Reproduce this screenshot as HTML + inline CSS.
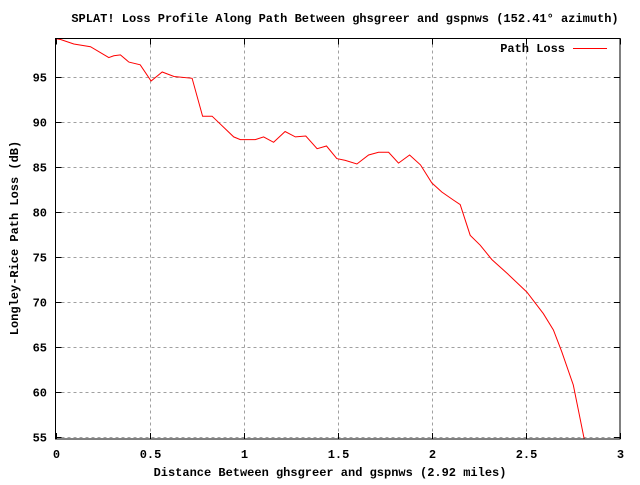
<!DOCTYPE html>
<html><head><meta charset="utf-8"><style>
html,body{margin:0;padding:0;background:#fff}
svg text{font-family:"Liberation Mono",monospace;font-size:12px;font-weight:bold;fill:#000}
</style></head><body>
<svg id="chart" width="640" height="480" xmlns="http://www.w3.org/2000/svg">
<rect width="640" height="480" fill="#fff"/>
<g id="grid"></g>
<g id="ticks"></g>
<path id="line" fill="none" stroke="#ff0000" stroke-width="1"/>
<rect x="55.5" y="38.5" width="564.5" height="400.5" fill="none" stroke="#000"/>
<text x="345" y="22" text-anchor="middle">SPLAT! Loss Profile Along Path Between ghsgreer and gspnws (152.41° azimuth)</text>
<text x="330" y="476" text-anchor="middle">Distance Between ghsgreer and gspnws (2.92 miles)</text>
<text transform="translate(18,238) rotate(-90)" text-anchor="middle">Longley-Rice Path Loss (dB)</text>
<g>
<text x="565" y="52" text-anchor="end">Path Loss</text>
<line x1="573" y1="48.5" x2="607" y2="48.5" stroke="#ff0000"/>
</g>
</svg>
<script>
const xs=[0,0.027,0.097,0.186,0.283,0.31,0.345,0.39,0.45,0.508,0.567,0.63,0.726,0.782,0.832,0.947,0.982,1.062,1.106,1.159,1.22,1.275,1.33,1.39,1.44,1.495,1.54,1.602,1.664,1.717,1.77,1.823,1.882,1.94,2.0,2.053,2.115,2.151,2.204,2.257,2.319,2.399,2.505,2.593,2.646,2.69,2.752,2.779,2.81];
const losses=[99.2,99.1,98.6,98.3,97.1,97.3,97.4,96.6,96.3,94.5,95.5,95.0,94.8,90.6,90.6,88.3,88.0,88.0,88.3,87.7,88.9,88.3,88.4,87.0,87.3,85.9,85.7,85.3,86.3,86.6,86.6,85.4,86.3,85.2,83.2,82.2,81.3,80.8,77.4,76.3,74.7,73.2,71.1,68.7,66.9,64.5,60.8,58.0,54.8];
const xTicks=[0,0.5,1,1.5,2,2.5,3];
const xTickLabels=["0","0.5","1","1.5","2","2.5","3"];
const yTicks=[55,60,65,70,75,80,85,90,95];
const yTickLabels=["55","60","65","70","75","80","85","90","95"];
const L=55.5,R=620,T=38.5,B=439;
const X=v=>L+v*(R-L)/3;
const Y=v=>437.3-(v-55)*9.02;
const ns="http://www.w3.org/2000/svg";
const grid=document.getElementById('grid'),ticks=document.getElementById('ticks');
function mk(tag,attrs,parent){const e=document.createElementNS(ns,tag);for(const k in attrs)e.setAttribute(k,attrs[k]);parent.appendChild(e);return e;}
xTicks.forEach((v,i)=>{
 const x=Math.round(X(v))+0.5;
 if(i>0&&i<xTicks.length-1){const g=mk('line',{x1:x,y1:T,x2:x,y2:B,stroke:'#a0a0a0','stroke-dasharray':'3,3'},grid);
 
 }
 const t1=mk('line',{x1:x,y1:B,x2:x,y2:B-6,stroke:'#000'},ticks);
 
 
 const t2=mk('line',{x1:x,y1:T,x2:x,y2:T+6,stroke:'#000'},ticks);
 
 
 const lb=mk('text',{x:x,y:458,'text-anchor':'middle'},ticks);lb.textContent=xTickLabels[i];
 
 
});
yTicks.forEach((v,i)=>{
 const y=Math.round(Y(v))+0.5;
 const g=mk('line',{x1:L,y1:y,x2:R,y2:y,stroke:'#a0a0a0','stroke-dasharray':'3,3'},grid);
 
 
 const t1=mk('line',{x1:L,y1:y,x2:L+6,y2:y,stroke:'#000'},ticks);
 
 
 const t2=mk('line',{x1:R,y1:y,x2:R-6,y2:y,stroke:'#000'},ticks);
 
 
 const lb=mk('text',{x:47,y:y+4,'text-anchor':'end'},ticks);lb.textContent=yTickLabels[i];
 
 
});
document.getElementById('line').setAttribute('d',xs.map((v,i)=>(i?'L':'M')+X(v).toFixed(1)+','+Math.min(Y(losses[i]),B).toFixed(1)).join(''));
</script>
</body></html>
